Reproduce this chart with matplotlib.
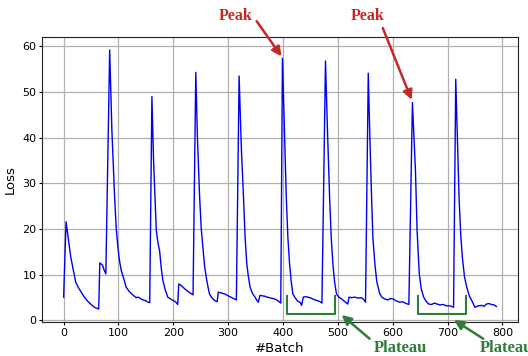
import matplotlib
matplotlib.use('Agg')
import matplotlib.pyplot as plt

# Loss per batch
batch = [0, 4.5, 9, 13, 18, 22, 27, 32, 38, 44, 50, 56, 60, 64,
         66, 71, 74, 77,
         84, 88, 93, 96, 99, 102, 105, 110, 114, 120, 127, 132, 136, 140, 145, 150, 154, 157,
         161, 164, 169, 172, 175, 178, 181, 185, 190, 195, 199, 204, 208,
         210, 215, 221, 226, 231, 236,
         241, 244, 248, 251, 254, 257, 260, 263, 266, 270, 275, 280,
         282, 288, 294, 300, 305, 310, 315,
         320, 324, 328, 331, 334, 337, 340, 344, 349, 352, 355,
         358, 362, 367, 372, 378, 385, 390, 394, 396,
         399, 403, 406, 409, 412, 415, 418, 422, 427, 431, 434,
         437, 441, 446, 451, 456, 461, 466, 471,
         477.5, 481, 485, 488, 491, 494, 497.5, 502, 507, 512, 518,
         520.5, 525, 531, 537, 543, 547, 550.5,
         555.5, 558, 561.5, 564, 567.5, 571, 576.5, 581, 586, 591, 596, 601, 606, 613, 618, 623, 629.5,
         636, 641.5, 644.5, 648.5, 652, 656.5, 661, 665.5, 671, 676, 681, 686, 692, 698, 704, 711,
         715, 718, 721, 724, 727, 731, 735, 740, 744, 750, 756, 762, 767, 771, 776, 780, 785, 789]
loss = [5.1, 21.6, 17.5, 13.9, 10.8, 8.4, 7.2, 6.2, 5.1, 4.2, 3.5, 2.9, 2.7, 2.5,
        12.6, 12.1, 11.0, 10.2,
        59.2, 41.7, 27.0, 20.0, 16.0, 13.0, 11.0, 9.0, 7.3, 6.3, 5.5, 5.0, 5.1, 4.8, 4.5, 4.3, 4.0, 3.9,
        49.0, 35.0, 19.7, 17.0, 15.3, 11.5, 8.8, 6.8, 5.1, 4.7, 4.4, 4.1, 3.5,
        8.0, 7.6, 6.9, 6.4, 6.0, 5.6,
        54.3, 40.0, 27.0, 20.0, 16.0, 12.0, 9.5, 7.5, 5.8, 5.0, 4.4, 4.1,
        6.2, 6.0, 5.8, 5.4, 5.1, 4.8, 4.5,
        53.5, 38.0, 27.0, 18.0, 12.4, 9.5, 7.3, 6.0, 5.1, 4.5, 4.0,
        5.5, 5.4, 5.3, 5.1, 4.9, 4.7, 4.4, 4.0, 3.8,
        57.4, 40.0, 27.0, 18.0, 12.4, 8.5, 5.8, 5.0, 4.2, 4.0, 3.3,
        5.1, 5.2, 5.1, 4.9, 4.6, 4.4, 4.2, 3.8,
        56.8, 42.0, 27.0, 18.0, 12.4, 8.5, 5.8, 5.1, 4.7, 4.2, 3.6,
        5.1, 5.0, 5.1, 4.9, 5.0, 4.6, 4.0,
        54.1, 42.0, 27.0, 18.0, 12.4, 8.5, 5.8, 5.0, 4.7, 4.5, 4.8, 4.7, 4.3, 4.0, 4.1, 3.8, 3.5,
        47.7, 32.9, 19.7, 10.2, 7.0, 5.1, 4.2, 3.6, 3.5, 3.8, 3.6, 3.4, 3.5, 3.2, 3.2, 2.9,
        52.8, 40.0, 27.0, 19.0, 13.9, 9.5, 7.3, 5.3, 4.4, 2.9, 3.2, 3.3, 3.1, 3.6, 3.7, 3.5, 3.4, 3.05]

# annotations: text position, arrow tail, arrow tip (data coords)
peak_text = [(314, 66.6), (555, 66.6)]
peak_tail = [(352, 65.5), (582, 64.0)]
peak_tip = [(397.3, 57.8), (634.5, 48.3)]
plat_text = [(613.5, -5.95), (808, -5.95)]
plat_tail = [(558, -4.0), (765, -4.0)]
plat_tip = [(507, 1.2), (712, 0.1)]
brackets = [(407, 495), (646, 734)]
br_top, br_bot = 5.25, 1.45

c_peak = '#c62828'
c_plat = '#2e7d3a'

fig = plt.figure(figsize=(5.28, 3.56), dpi=100)
ax = fig.add_axes([0.0795, 0.0955, 0.9015, 0.8005])

ax.plot(batch, loss, color='#0000ee', lw=1.0)
ax.set_xlim(-39.45, 828.45)
ax.set_ylim(-0.335, 62.035)
ax.grid(True, color='#b0b0b0', lw=0.9)
ax.set_xticks([0, 100, 200, 300, 400, 500, 600, 700, 800])
ax.set_yticks([0, 10, 20, 30, 40, 50, 60])
ax.tick_params(labelsize=8, length=2.5, pad=1.5)
ax.set_xlabel('#Batch', fontsize=9.5, labelpad=3)
ax.set_ylabel('Loss', fontsize=9.5, labelpad=4)
for s in ax.spines.values():
    s.set_color('#222222')

arrow_kw = dict(arrowstyle='-|>', lw=1.8, mutation_scale=14, shrinkA=0, shrinkB=0)

for (tx, ty), tail, tip in zip(peak_text, peak_tail, peak_tip):
    ax.text(tx, ty, 'Peak', ha='center', va='center', fontsize=11.5, fontweight='bold',
            family='Liberation Serif', color=c_peak, clip_on=False)
    ax.annotate('', xy=tip, xytext=tail, annotation_clip=False,
                arrowprops=dict(color=c_peak, **arrow_kw))

for x0, x1 in brackets:
    ax.plot([x0, x0, x1, x1], [br_top, br_bot, br_bot, br_top], color=c_plat, lw=1.5)

for (tx, ty), tail, tip in zip(plat_text, plat_tail, plat_tip):
    ax.text(tx, ty, 'Plateau', ha='center', va='center', fontsize=12, fontweight='bold',
            family='Liberation Serif', color=c_plat, clip_on=False)
    ax.annotate('', xy=tip, xytext=tail, annotation_clip=False,
                arrowprops=dict(color=c_plat, **arrow_kw))

fig.savefig('out.png', dpi=100)
plt.close()
